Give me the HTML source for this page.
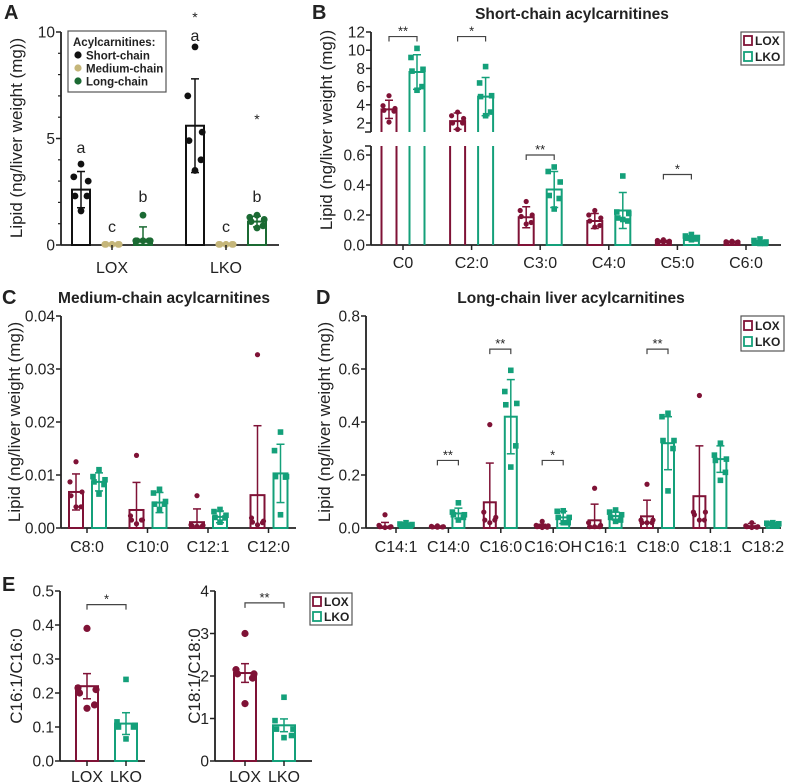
<!DOCTYPE html>
<html><head><meta charset="utf-8"><style>
html,body{margin:0;padding:0;background:#fff;}
svg{display:block;font-family:"Liberation Sans",Arial,sans-serif;}
</style></head><body>
<svg id="fig" width="786" height="784" viewBox="0 0 786 784"></svg>
<script>
// ---------- DATA ----------
// Panel A
const aGroups = ['LOX','LKO'];
const aTypes = ['Short-chain','Medium-chain','Long-chain'];
const aMeans = [[2.6,0.05,0.25],[5.6,0.05,1.1]];
const aSD = [[0.85,0.02,0.6],[2.2,0.02,0.25]];
const aPts = [
 [[3.8,3.2,3.0,2.3,2.3,1.6],[0.03,0.03,0.03,0.03,0.03,0.03],[1.4,0.2,0.2,0.2,0.2,0.2]],
 [[9.3,7.0,5.3,4.9,4.0,3.5],[0.03,0.03,0.03,0.03,0.03,0.03],[1.4,1.3,1.2,1.1,0.9,0.8]]];
const aTicks = [0,5,10];
// Panel B
const bCats = ['C0','C2:0','C3:0','C4:0','C5:0','C6:0'];
const bLoxMean = [3.5,2.2,0.185,0.16,0.025,0.02];
const bLoxSD = [1.0,0.9,0.07,0.05,0.006,0.005];
const bLkoMean = [7.6,4.9,0.37,0.23,0.05,0.02];
const bLkoSD = [1.9,2.1,0.12,0.12,0.012,0.008];
const bLoxPts = [[5.0,3.9,3.6,3.4,3.3,2.1],[3.2,2.8,2.5,2.0,2.0,1.3],[0.29,0.23,0.20,0.19,0.15,0.14],[0.23,0.20,0.18,0.16,0.13,0.12],[0.035,0.03,0.025,0.02,0.02,0.02],[0.025,0.022,0.02,0.018,0.016,0.015]];
const bLkoPts = [[10.2,9.2,7.9,7.7,6.0,5.6],[8.2,6.4,5.0,4.9,3.2,2.8],[0.52,0.49,0.42,0.33,0.31,0.24],[0.46,0.22,0.21,0.18,0.16,0.17],[0.07,0.06,0.05,0.045,0.04,0.035],[0.04,0.03,0.02,0.015,0.01,0.01]];
const bSig = [['**',0,11.5],['*',1,11.5],['**',2,0.6],['*',4,0.47]];
const bTicksUpper = [2,4,6,8,10,12];
const bTicksLower = [0,0.2,0.4,0.6];
// Panel C
const cCats = ['C8:0','C10:0','C12:1','C12:0'];
const cLoxMean = [0.0068,0.0034,0.0011,0.0062];
const cLoxSD = [0.0034,0.0052,0.0025,0.0131];
const cLkoMean = [0.0087,0.0048,0.0021,0.0103];
const cLkoSD = [0.0017,0.0019,0.0011,0.0055];
const cLoxPts = [[0.0125,0.0087,0.0068,0.0061,0.0040,0.0040],[0.0137,0.0023,0.0015,0.0015,0.0015,0.0008],[0.0061,0.0006,0.0005,0.0004,0.0003,0.0003],[0.0327,0.0019,0.0013,0.0011,0.0010,0.0006]];
const cLkoPts = [[0.0110,0.0097,0.0091,0.0087,0.0082,0.0064],[0.0073,0.0066,0.0050,0.0045,0.0045,0.0035],[0.0035,0.0031,0.0024,0.0020,0.0019,0.0011],[0.0181,0.0146,0.0097,0.0097,0.0096,0.0025]];
const cTicks = [0,0.01,0.02,0.03,0.04];
// Panel D
const dCats = ['C14:1','C14:0','C16:0','C16:OH','C16:1','C18:0','C18:1','C18:2'];
const dLoxMean = [0.005,0.005,0.097,0.008,0.029,0.044,0.12,0.007];
const dLoxSD = [0.016,0.002,0.148,0.006,0.061,0.061,0.19,0.01];
const dLkoMean = [0.013,0.055,0.42,0.04,0.045,0.32,0.26,0.015];
const dLkoSD = [0.004,0.02,0.14,0.023,0.015,0.1,0.05,0.003];
const dLoxPts = [[0.05,0.01,0.005,0.005,0.003,0.002],[0.008,0.006,0.005,0.004,0.004,0.003],[0.39,0.06,0.04,0.03,0.03,0.02],[0.025,0.01,0.008,0.005,0.003,0.002],[0.15,0.02,0.01,0.005,0.005,0.005],[0.165,0.03,0.03,0.02,0.02,0.02],[0.50,0.06,0.06,0.05,0.03,0.03],[0.02,0.008,0.005,0.005,0.003,0.002]];
const dLkoPts = [[0.02,0.015,0.013,0.012,0.01,0.008],[0.095,0.06,0.05,0.05,0.04,0.03],[0.595,0.515,0.47,0.465,0.31,0.23],[0.065,0.063,0.04,0.04,0.02,0.02],[0.068,0.06,0.05,0.04,0.03,0.025],[0.433,0.42,0.33,0.33,0.30,0.14],[0.32,0.275,0.26,0.255,0.21,0.18],[0.02,0.018,0.016,0.015,0.013,0.012]];
const dSig = [['**',1,0.255],['**',2,0.675],['*',3,0.255],['**',5,0.675]];
const dTicks = [0,0.2,0.4,0.6,0.8];
// Panel E
const eGroups = ['LOX','LKO'];
const e1Mean = [0.22,0.11];
const e1SEM = [0.037,0.032];
const e1Pts = [[0.39,0.215,0.21,0.2,0.165,0.155],[0.24,0.115,0.105,0.10,0.10,0.065]];
const e1Ticks = [0,0.1,0.2,0.3,0.4,0.5];
const e2Mean = [2.07,0.84];
const e2SEM = [0.22,0.15];
const e2Pts = [[3.0,2.15,2.05,2.05,1.95,1.35],[1.5,0.95,0.75,0.75,0.6,0.55]];
const e2Ticks = [0,1,2,3,4];

// ---------- DRAW ----------
const NS='http://www.w3.org/2000/svg';
const svg=document.getElementById('fig');
const LOXC='#7f1236', LKOC='#14a07a', INK='#222';
let jit=[0,-6,6,-5,5,0];
function mk(tag,attrs,name){
  const e=document.createElementNS(NS,tag);
  for(const k in attrs) e.setAttribute(k,attrs[k]);
  
  
  svg.appendChild(e);
  return e;
}
function txt(x,y,s,name,o){
  o=o||{};
  const a={x:x,y:y,'font-size':o.size||14,fill:o.fill||INK,'text-anchor':o.anchor||'middle'};
  if(o.bold) a['font-weight']='bold';
  if(o.rot) a.transform='rotate(-90 '+x+' '+y+')';
  const t=mk('text',a,name); t.textContent=s; return t;
}
function ln(x1,y1,x2,y2,name,c,w){return mk('line',{x1:x1,y1:y1,x2:x2,y2:y2,stroke:c||INK,'stroke-width':w||1.5},name);}
function dot(x,y,shape,c,name,r){
  if(shape==='sq') mk('rect',{x:x-2.8,y:y-2.8,width:5.6,height:5.6,fill:c},name);
  else mk('circle',{cx:x,cy:y,r:r||2.6,fill:c},name);
}
function bar(cx,w,mean,err,pts,y,c,shape,name,r,js){
  const y0=y(0), ym=y(mean);
  const s=js||1;
  mk('rect',{x:cx-w/2,y:ym,width:w,height:Math.max(0,y0-ym),fill:'#fff',stroke:c,'stroke-width':2},name+'-bar');
  const lo=Math.max(0,mean-err);
  ln(cx,y(lo),cx,y(mean+err),name+'-error',c,1.5);
  ln(cx-4,y(mean+err),cx+4,y(mean+err),name+'-error-cap',c,1.5);
  if(mean-err>0) ln(cx-4,y(lo),cx+4,y(lo),name+'-error-cap-low',c,1.5);
  pts.forEach((v,i)=>dot(cx+jit[i%6]*s,y(v),shape,c,name+'-point',r));
}
function sig(x1,x2,yy,s,name){
  mk('path',{d:`M${x1} ${yy+5}V${yy}H${x2}V${yy+5}`,fill:'none',stroke:'#444','stroke-width':1.2},name+'-bracket');
  txt((x1+x2)/2,yy-1,s,name+'-stars',{size:13});
}
function yaxis(x,top,bot,ticks,y,fmt,name){
  ln(x,top,x,bot,name,INK,1.8);
  ticks.forEach(t=>{ln(x-5,y(t),x,y(t),name+'-tick',INK,1.5);txt(x-6,y(t)+5.5,fmt(t),name+'-tick-label',{anchor:'end',size:15.5});});
}

// Panel letters and titles
txt(4,19,'A','panel-label-a',{size:20,bold:true,anchor:'start'});
txt(312,19,'B','panel-label-b',{size:20,bold:true,anchor:'start'});
txt(2,304,'C','panel-label-c',{size:20,bold:true,anchor:'start'});
txt(316,304,'D','panel-label-d',{size:20,bold:true,anchor:'start'});
txt(2,591,'E','panel-label-e',{size:20,bold:true,anchor:'start'});
txt(572,19,'Short-chain acylcarnitines','title-b',{size:15.5,bold:true});
txt(164,303,'Medium-chain acylcarnitines','title-c',{size:15.5,bold:true});
txt(571,303,'Long-chain liver acylcarnitines','title-d',{size:15.5,bold:true});

// ---- Panel A ----
(function(){
  const y=v=>245-v*21.3;
  const aCenters=[[81,112,143],[195,226,257]];
  const aColors=['#111','#c5b67a','#1b6a33'];
  txt(22,138,'Lipid (ng/liver weight (mg))','y-axis-title-a',{size:17,rot:true});
  ln(61,245,279,245,'x-axis-a',INK,1.8);
  yaxis(61,32,245,aTicks,y,t=>String(t),'y-axis-a');
  for(let i=1;i<10;i++){ if(i!==5) ln(58,y(i),61,y(i),'y-minor-tick-a',INK,1.2); }
  aGroups.forEach((g,gi)=>{
    aTypes.forEach((tp,ti)=>{
      bar(aCenters[gi][ti],18,aMeans[gi][ti],aSD[gi][ti],aPts[gi][ti],y,aColors[ti],'c','bar-a-'+g+'-'+ti,3.4,1.2);
    });
    ln(aCenters[gi][1],245,aCenters[gi][1],250,'x-tick-a',INK,1.5);
    txt(aCenters[gi][1],273,g,'x-label-a',{size:16});
  });
  txt(81,153,'a','letter-a',{size:16});txt(112,232,'c','letter-c',{size:16});txt(143,202,'b','letter-b',{size:16});
  txt(195,41,'a','letter-a2',{size:16});txt(195,22,'*','star-a',{size:14});
  txt(226,232,'c','letter-c2',{size:16});txt(257,202,'b','letter-b2',{size:16});txt(257,124,'*','star-a2',{size:14});
  mk('rect',{x:68,y:31,width:98,height:61,fill:'#fff',stroke:'#555','stroke-width':1.2},'legend-a-box');
  txt(73,46,'Acylcarnitines:','legend-a-title',{size:11.5,bold:true,anchor:'start'});
  aTypes.forEach((tp,i)=>{dot(78,55+i*13,'c',aColors[i],'legend-a-marker',3.6);txt(86,59.5+i*13,tp,'legend-a-entry',{size:11.5,bold:true,anchor:'start'});});
})();

// ---- Panel B ----
(function(){
  const yL=v=>245-v*150;
  const yU=v=>123-(v-2)*9.1;
  const cx=bCats.map((c,i)=>403+i*68.6);
  txt(332,130,'Lipid (ng/liver weight (mg))','y-axis-title-b',{size:17,rot:true});
  ln(371,245,781,245,'x-axis-b',INK,1.8);
  ln(371,146,371,245,'y-axis-b-lower',INK,1.8);
  ln(371,32,371,132,'y-axis-b-upper',INK,1.8);
  ln(365,146,371,146,'axis-break-b',INK,1.5);ln(365,132,371,132,'axis-break-b',INK,1.5);
  bTicksLower.forEach(t=>{ln(366,yL(t),371,yL(t),'y-tick-b',INK,1.5);txt(365,yL(t)+5.5,t.toFixed(1),'y-tick-label-b',{anchor:'end',size:15.5});});
  bTicksUpper.forEach(t=>{ln(366,yU(t),371,yU(t),'y-tick-b',INK,1.5);txt(365,yU(t)+5.5,String(t),'y-tick-label-b',{anchor:'end',size:15.5});});
  bCats.forEach((c,i)=>{
    const lx=cx[i]-14, kx=cx[i]+14;
    if(bLoxMean[i]>0.65){
      [[lx,LOXC,bLoxMean[i],bLoxSD[i],bLoxPts[i],'c','lox'],[kx,LKOC,bLkoMean[i],bLkoSD[i],bLkoPts[i],'sq','lko']].forEach(s=>{
        const [x,col,m,e,p,sh,nm]=s;
        mk('path',{d:`M${x-7.5} 245V146M${x+7.5} 245V146M${x-7.5} 132V${yU(m)}H${x+7.5}V132`,fill:'none',stroke:col,'stroke-width':2},'bar-b-'+nm+'-'+i);
        ln(x,yU(m-e),x,yU(m+e),'error-b',col,1.5);ln(x-4,yU(m+e),x+4,yU(m+e),'error-cap-b',col,1.5);ln(x-4,yU(m-e),x+4,yU(m-e),'error-cap-b',col,1.5);
        p.forEach((v,j)=>dot(x+jit[j],yU(v),sh,col,'point-b-'+nm));
      });
    } else {
      bar(lx,15,bLoxMean[i],bLoxSD[i],bLoxPts[i],yL,LOXC,'c','b-lox-'+i);
      bar(kx,15,bLkoMean[i],bLkoSD[i],bLkoPts[i],yL,LKOC,'sq','b-lko-'+i);
    }
    ln(cx[i],245,cx[i],250,'x-tick-b',INK,1.5);
    txt(cx[i],268,c,'x-label-b',{size:16});
  });
  bSig.forEach(s=>{const i=s[1];const yy=s[2]>1?yU(s[2]):yL(s[2]);sig(cx[i]-14,cx[i]+14,yy,s[0],'sig-b');});
  mk('rect',{x:741,y:32,width:43,height:33,fill:'#fff',stroke:'#555','stroke-width':1.2},'legend-b-box');
  mk('rect',{x:744,y:36,width:8,height:9,fill:'#fff',stroke:LOXC,'stroke-width':1.8},'legend-b-lox-swatch');
  mk('rect',{x:744,y:52,width:8,height:9,fill:'#fff',stroke:LKOC,'stroke-width':1.8},'legend-b-lko-swatch');
  txt(755,45,'LOX','legend-b-lox',{size:12,bold:true,anchor:'start'});
  txt(755,61,'LKO','legend-b-lko',{size:12,bold:true,anchor:'start'});
})();

// ---- Panel C ----
(function(){
  const y=v=>528-v*5300;
  const cx=cCats.map((c,i)=>87+i*60.5);
  txt(20,422,'Lipid (ng/liver weight (mg))','y-axis-title-c',{size:17,rot:true});
  ln(61,528,296,528,'x-axis-c',INK,1.8);
  yaxis(61,316,528,cTicks,y,t=>t.toFixed(2),'y-axis-c');
  cCats.forEach((c,i)=>{
    bar(cx[i]-11,14,cLoxMean[i],cLoxSD[i],cLoxPts[i],y,LOXC,'c','c-lox-'+i);
    bar(cx[i]+12,14,cLkoMean[i],cLkoSD[i],cLkoPts[i],y,LKOC,'sq','c-lko-'+i);
    ln(cx[i],528,cx[i],533,'x-tick-c',INK,1.5);
    txt(cx[i],552,c,'x-label-c',{size:16});
  });
})();

// ---- Panel D ----
(function(){
  const y=v=>528-v*265;
  const cx=dCats.map((c,i)=>396+i*52.4);
  txt(330,422,'Lipid (ng/liver weight (mg))','y-axis-title-d',{size:17,rot:true});
  ln(366,528,781,528,'x-axis-d',INK,1.8);
  yaxis(366,316,528,dTicks,y,t=>t.toFixed(1),'y-axis-d');
  dCats.forEach((c,i)=>{
    bar(cx[i]-11,12,dLoxMean[i],dLoxSD[i],dLoxPts[i],y,LOXC,'c','d-lox-'+i);
    bar(cx[i]+10,12,dLkoMean[i],dLkoSD[i],dLkoPts[i],y,LKOC,'sq','d-lko-'+i);
    ln(cx[i],528,cx[i],533,'x-tick-d',INK,1.5);
    txt(cx[i],552,c,'x-label-d',{size:16});
  });
  dSig.forEach(s=>sig(cx[s[1]]-11,cx[s[1]]+10,y(s[2]),s[0],'sig-d'));
  mk('rect',{x:741,y:316,width:43,height:35,fill:'#fff',stroke:'#555','stroke-width':1.2},'legend-d-box');
  mk('rect',{x:744,y:321,width:8,height:9,fill:'#fff',stroke:LOXC,'stroke-width':1.8},'legend-d-lox-swatch');
  mk('rect',{x:744,y:337,width:8,height:9,fill:'#fff',stroke:LKOC,'stroke-width':1.8},'legend-d-lko-swatch');
  txt(755,330,'LOX','legend-d-lox',{size:12,bold:true,anchor:'start'});
  txt(755,346,'LKO','legend-d-lko',{size:12,bold:true,anchor:'start'});
})();

// ---- Panel E ----
(function(){
  const y1=v=>761-v*340;
  const y2=v=>761-v*42.5;
  txt(22,676,'C16:1/C16:0','y-axis-title-e1',{size:17,rot:true});
  txt(200,676,'C18:1/C18:0','y-axis-title-e2',{size:17,rot:true});
  ln(60,761,145,761,'x-axis-e1',INK,1.8);
  ln(215,761,312,761,'x-axis-e2',INK,1.8);
  yaxis(60,591,761,e1Ticks,y1,t=>t.toFixed(1),'y-axis-e1');
  yaxis(215,591,761,e2Ticks,y2,t=>String(t),'y-axis-e2');
  const x1=[87,126], x2=[245,284];
  eGroups.forEach((g,i)=>{
    const col=i?LKOC:LOXC, sh=i?'sq':'c';
    bar(x1[i],22,e1Mean[i],e1SEM[i],e1Pts[i],y1,col,sh,'e1-'+g,3.6,1.5);
    bar(x2[i],22,e2Mean[i],e2SEM[i],e2Pts[i],y2,col,sh,'e2-'+g,3.6,1.5);
    ln(x1[i],761,x1[i],766,'x-tick-e1',INK,1.5);
    ln(x2[i],761,x2[i],766,'x-tick-e2',INK,1.5);
    txt(x1[i],782,g,'x-label-e1',{size:16});
    txt(x2[i],782,g,'x-label-e2',{size:16});
  });
  sig(x1[0],x1[1],y1(0.46),'*','sig-e1');
  sig(x2[0],x2[1],y2(3.72),'**','sig-e2');
  mk('rect',{x:310,y:593,width:42,height:32,fill:'#fff',stroke:'#555','stroke-width':1.2},'legend-e-box');
  mk('rect',{x:313,y:597,width:8,height:9,fill:'#fff',stroke:LOXC,'stroke-width':1.8},'legend-e-lox-swatch');
  mk('rect',{x:313,y:612,width:8,height:9,fill:'#fff',stroke:LKOC,'stroke-width':1.8},'legend-e-lko-swatch');
  txt(324,606,'LOX','legend-e-lox',{size:12,bold:true,anchor:'start'});
  txt(324,621,'LKO','legend-e-lko',{size:12,bold:true,anchor:'start'});
})();
</script>
</body></html>
